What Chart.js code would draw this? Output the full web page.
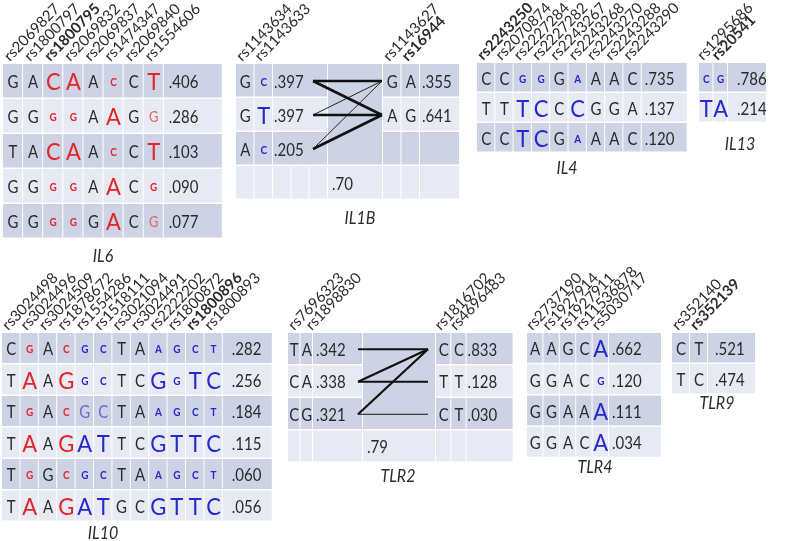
<!DOCTYPE html>
<html><head><meta charset="utf-8">
<script src="https://cdn.jsdelivr.net/npm/chart.js@4/dist/chart.umd.min.js"></script>
<style>html,body{margin:0;padding:0;background:#fff}#wrap{width:787px;height:541px}</style>
</head><body><div id="wrap"><canvas id="c" width="787" height="541"></canvas></div>
<script>
// ---------------- DATA ----------------
// mark codes: '.' plain, 'R' red large, 'r' red small, 'q' red faint, 'B' blue large, 'b' blue small, 'p' blue faint
const il6Snps = ["rs2069827","rs1800797","rs1800795","rs2069832","rs2069837","rs1474347","rs2069840","rs1554606"];
const il6Lead = "rs1800795";
const il6Alleles = ["GACAACCT","GGGGAAGG","TACAACCT","GGGGAACG","GGGGGACG"];
const il6Marks   = ["..RR.r.R","..rr.R.q","..RR.r.R","..rr.R.r","..rr.R.q"];
const il6Freq = [0.406,0.286,0.103,0.090,0.077];

const il1bLeftSnps = ["rs1143634","rs1143633"];
const il1bLeftAlleles = ["GC","GT","AC"];
const il1bLeftMarks = [".b",".B",".b"];
const il1bLeftFreq = [0.397,0.397,0.205];
const il1bRightSnps = ["rs1143627","rs16944"];
const il1bLead = "rs16944";
const il1bRightAlleles = ["GA","AG"];
const il1bRightMarks = ["..",".."];
const il1bRightFreq = [0.355,0.641];
const il1bLinks = [[0,0,"strong"],[0,1,"strong"],[1,0,"weak"],[1,1,"strong"],[2,0,"weak"],[2,1,"strong"]];
const il1bLD = 0.70;

const il4Snps = ["rs2243250","rs2070874","rs2227284","rs2227282","rs2243267","rs2243268","rs2243270","rs2243288","rs2243290"];
const il4Lead = "rs2243250";
const il4Alleles = ["CCGGGAAAC","TTTCCCGGA","CCTCGAAAC"];
const il4Marks   = ["..bb.b...","..BB.B...","..BB.b..."];
const il4Freq = [0.735,0.137,0.120];

const il13Snps = ["rs1295686","rs20541"];
const il13Lead = "rs20541";
const il13Alleles = ["CG","TA"];
const il13Marks = ["bb","BB"];
const il13Freq = [0.786,0.214];

const il10Snps = ["rs3024498","rs3024496","rs3024509","rs1878672","rs1554286","rs1518111","rs3021094","rs3024491","rs2222202","rs1800872","rs1800896","rs1800893"];
const il10Lead = "rs1800896";
const il10Alleles = ["CGACGCTAAGCT","TAAGGCTCGGTC","TGACGCTAAGCT","TAAGATTCGTTC","TGGCGCTAAGCT","TAAGATGCGTTC"];
const il10Marks   = [".r.rbb..bbbb",".R.Rbb..BbBB",".r.rpp..bbbb",".R.RBB..BBBB",".r.rbb..bbbb",".R.RBB..BBBB"];
const il10Freq = [0.282,0.256,0.184,0.115,0.060,0.056];

const tlr2LeftSnps = ["rs7696323","rs1898830"];
const tlr2LeftAlleles = ["TA","CA","CG"];
const tlr2LeftMarks = ["..","..",".."];
const tlr2LeftFreq = [0.342,0.338,0.321];
const tlr2RightSnps = ["rs1816702","rs4696483"];
const tlr2RightAlleles = ["CC","TT","CT"];
const tlr2RightMarks = ["..","..",".."];
const tlr2RightFreq = [0.833,0.128,0.030];
const tlr2Links = [[0,0,"strong"],[1,0,"strong"],[1,1,"strong"],[2,0,"strong"],[2,2,"weak"]];
const tlr2LD = 0.79;

const tlr4Snps = ["rs2737190","rs1927914","rs1927911","rs11536878","rs5030717"];
const tlr4Alleles = ["AAGCA","GGACG","GGAAA","GGACA"];
const tlr4Marks   = ["....B","....b","....B","....B"];
const tlr4Freq = [0.662,0.120,0.111,0.034];

const tlr9Snps = ["rs352140","rs352139"];
const tlr9Lead = "rs352139";
const tlr9Alleles = ["CT","TC"];
const tlr9Marks = ["..",".."];
const tlr9Freq = [0.521,0.474];

// ---------------- LAYOUT / STYLE ----------------
const FONT = 'Lato, "Open Sans", "Liberation Sans", sans-serif';
const COL = {dark:'#cdd3e4', light:'#e7eaf2', ink:'#2a2a2a', red:'#e3252b', redFaint:'#e06464',
             blue:'#2727d0', blueFaint:'#6a6ad4', line:'#111'};
const LABEL_ANGLE = -46 * Math.PI / 180;
const LABEL_FONT = 15;
const STRETCH = 1.18;   // vertical stretch of the source lettering

const simplePanels = [
  {title:'IL6',  snps:il6Snps,  lead:il6Lead,  alleles:il6Alleles,  marks:il6Marks,  freq:il6Freq,
   box:{x:3,   y:64,  colW:20.1, rowH:35,   freqW:59, fs:15, fPad:5}, t:{x:103, y:256}},
  {title:'IL4',  snps:il4Snps,  lead:il4Lead,  alleles:il4Alleles,  marks:il4Marks,  freq:il4Freq,
   box:{x:477, y:63,  colW:18.3, rowH:30,   freqW:46, fs:15, fPad:3}, t:{x:567, y:168}},
  {title:'IL13', snps:il13Snps, lead:il13Lead, alleles:il13Alleles, marks:il13Marks, freq:il13Freq,
   box:{x:699, y:63,  colW:14.5, rowH:30,   freqW:39, fs:15, fPad:9}, t:{x:740, y:144}},
  {title:'IL10', snps:il10Snps, lead:il10Lead, alleles:il10Alleles, marks:il10Marks, freq:il10Freq,
   box:{x:2,   y:333, colW:18.4, rowH:31.5, freqW:50, fs:15, fPad:9}, t:{x:103, y:533}},
  {title:'TLR4', snps:tlr4Snps, lead:null,     alleles:tlr4Alleles, marks:tlr4Marks, freq:tlr4Freq,
   box:{x:527, y:333, colW:16.4, rowH:31.3, freqW:53, fs:15, fPad:3}, t:{x:595, y:467}},
  {title:'TLR9', snps:tlr9Snps, lead:tlr9Lead, alleles:tlr9Alleles, marks:tlr9Marks, freq:tlr9Freq,
   box:{x:672, y:333, colW:18,   rowH:31,   freqW:48, fs:15, fPad:7}, t:{x:717, y:403}}
];

const linkedPanels = [
  {title:'IL1B',
   left:{snps:il1bLeftSnps, alleles:il1bLeftAlleles, marks:il1bLeftMarks, freq:il1bLeftFreq},
   right:{snps:il1bRightSnps, alleles:il1bRightAlleles, marks:il1bRightMarks, freq:il1bRightFreq},
   lead:il1bLead, links:il1bLinks, ld:il1bLD,
   box:{x:236, y:64, colW:18.5, rowH:34, lfW:55, midW:55, rColW:18.5, rfW:40, fs:15, lfPad:1, rfPad:2, lfSplit:3,
        leftLabelDx:[0,0], lineX:[313,382], weights:{strong:2.6, weak:0.9}},
   t:{x:360, y:218}},
  {title:'TLR2',
   left:{snps:tlr2LeftSnps, alleles:tlr2LeftAlleles, marks:tlr2LeftMarks, freq:tlr2LeftFreq},
   right:{snps:tlr2RightSnps, alleles:tlr2RightAlleles, marks:tlr2RightMarks, freq:tlr2RightFreq},
   lead:null, links:tlr2Links, ld:tlr2LD,
   box:{x:288, y:333, colW:12.5, rowH:32.5, lfW:50, midW:73, rColW:15.3, rfW:47, fs:15, lfPad:3, rfPad:1, lfSplit:1,
        leftLabelDx:[3,8], lineX:[358,428], weights:{strong:2.2, weak:1.2}},
   t:{x:398, y:476}}
];

function fmt(v, d){ return v.toFixed(d).replace(/^0/, ''); }

// connector datasets built from link data through the layout
const linkDatasets = [];
linkedPanels.forEach(p => {
  const b = p.box;
  p.links.forEach(([li, ri, w]) => {
    linkDatasets.push({
      type:'line',
      data:[{x:b.lineX[0], y:b.y + (li + 0.5) * b.rowH}, {x:b.lineX[1], y:b.y + (ri + 0.5) * b.rowH}],
      borderColor:COL.line, borderWidth:b.weights[w], pointRadius:0, fill:false, tension:0,
      borderCapStyle:'butt'
    });
  });
});

// ---------------- DRAWING PLUGIN ----------------
function letterStyle(code, fs){
  switch(code){
    case 'R': return {color:COL.red,  font:`${Math.round(fs*1.45)}px ${FONT}`, sy:1.06};
    case 'r': return {color:COL.red,  font:`bold ${Math.round(fs*0.68)}px ${FONT}`, sy:1.12};
    case 'q': return {color:COL.redFaint, font:`${Math.round(fs*0.85)}px ${FONT}`, sy:1.12};
    case 'B': return {color:COL.blue, font:`${Math.round(fs*1.45)}px ${FONT}`, sy:1.06};
    case 'b': return {color:COL.blue, font:`bold ${Math.round(fs*0.68)}px ${FONT}`, sy:1.12};
    case 'p': return {color:COL.blueFaint, font:`${Math.round(fs*1.0)}px ${FONT}`, sy:STRETCH};
    default:  return {color:COL.ink,  font:`${fs}px ${FONT}`, sy:STRETCH};
  }
}

const tablePlugin = {
  id:'haploTables',
  beforeDatasetsDraw(chart){
    const ctx = chart.ctx, sx = chart.scales.x, sy = chart.scales.y;
    const X = v => sx.getPixelForValue(v), Y = v => sy.getPixelForValue(v);
    const cell = (x0, y0, w, h, color) => {
      ctx.fillStyle = color;
      const a = X(x0), b = Y(y0), c = X(x0 + w), d = Y(y0 + h);
      ctx.fillRect(a, b, c - a - 1, d - b - 1.5);
    };
    ctx.save();
    simplePanels.forEach(p => {
      const b = p.box, n = p.snps.length;
      p.alleles.forEach((_, r) => {
        const col = r % 2 ? COL.light : COL.dark;
        for (let c = 0; c < n; c++) cell(b.x + c*b.colW, b.y + r*b.rowH, b.colW, b.rowH, col);
        cell(b.x + n*b.colW, b.y + r*b.rowH, b.freqW, b.rowH, col);
      });
    });
    linkedPanels.forEach(p => {
      const b = p.box;
      const nRows = Math.max(p.left.alleles.length, p.right.alleles.length);
      const lf = b.x + 2*b.colW, mid = lf + b.lfW, rc = mid + b.midW, rf = rc + 2*b.rColW;
      for (let r = 0; r < nRows; r++){
        const col = r % 2 ? COL.light : COL.dark, y = b.y + r*b.rowH;
        cell(b.x, y, b.colW, b.rowH, col); cell(b.x + b.colW, y, b.colW, b.rowH, col);
        cell(lf, y, b.lfW, b.rowH, col);
        cell(rc, y, b.rColW, b.rowH, col); cell(rc + b.rColW, y, b.rColW, b.rowH, col);
        cell(rf, y, b.rfW, b.rowH, col);
      }
      ctx.fillStyle = COL.dark;
      ctx.fillRect(X(mid), Y(b.y), X(rc) - X(mid) - 1, Y(b.y + nRows*b.rowH) - Y(b.y) - 1.5);
      const y = b.y + nRows*b.rowH, col = COL.light;
      cell(b.x, y, b.colW, b.rowH, col); cell(b.x + b.colW, y, b.colW, b.rowH, col);
      const sw = b.lfW / b.lfSplit;
      for (let i = 0; i < b.lfSplit; i++) cell(lf + i*sw, y, sw, b.rowH, col);
      cell(mid, y, b.midW, b.rowH, col);
      cell(rc, y, b.rColW, b.rowH, col); cell(rc + b.rColW, y, b.rColW, b.rowH, col);
      cell(rf, y, b.rfW, b.rowH, col);
    });
    ctx.restore();
  },
  afterDatasetsDraw(chart){
    const ctx = chart.ctx, sx = chart.scales.x, sy = chart.scales.y;
    const X = v => sx.getPixelForValue(v), Y = v => sy.getPixelForValue(v);
    ctx.save();
    const stretched = (text, px, py, k) => {
      ctx.save(); ctx.translate(px, py); ctx.scale(1, k); ctx.fillText(text, 0, 0); ctx.restore();
    };
    const header = (name, lead, cx, top) => {
      ctx.save();
      ctx.translate(X(cx) - 3, Y(top) - 2);
      ctx.rotate(LABEL_ANGLE);
      ctx.font = (name === lead ? 'bold ' : '') + `${LABEL_FONT}px ${FONT}`;
      ctx.fillStyle = COL.ink; ctx.textAlign = 'left'; ctx.textBaseline = 'alphabetic';
      ctx.fillText(name, 0, 0);
      ctx.restore();
    };
    const letters = (alleles, marks, x0, colW, y0, rowH, fs) => {
      alleles.forEach((s, r) => {
        [...s].forEach((ch, c) => {
          const st = letterStyle(marks[r][c], fs);
          ctx.font = st.font; ctx.fillStyle = st.color;
          ctx.textAlign = 'center'; ctx.textBaseline = 'middle';
          stretched(ch, X(x0 + (c + 0.5)*colW), Y(y0 + (r + 0.5)*rowH) + 1, st.sy);
        });
      });
    };
    const freqs = (vals, x, y0, rowH, fs, d) => {
      ctx.font = `${fs}px ${FONT}`; ctx.fillStyle = COL.ink;
      ctx.textAlign = 'left'; ctx.textBaseline = 'middle';
      vals.forEach((v, r) => stretched(fmt(v, d), X(x), Y(y0 + (r + 0.5)*rowH) + 1, STRETCH));
    };
    const title = (t, pos) => {
      ctx.font = `italic 16px ${FONT}`; ctx.fillStyle = COL.ink;
      ctx.textAlign = 'center'; ctx.textBaseline = 'middle';
      stretched(t, X(pos.x), Y(pos.y), 1.1);
    };
    simplePanels.forEach(p => {
      const b = p.box, n = p.snps.length;
      p.snps.forEach((s, c) => header(s, p.lead, b.x + (c + 0.5)*b.colW, b.y));
      letters(p.alleles, p.marks, b.x, b.colW, b.y, b.rowH, b.fs);
      freqs(p.freq, b.x + n*b.colW + b.fPad, b.y, b.rowH, b.fs, 3);
      title(p.title, p.t);
    });
    linkedPanels.forEach(p => {
      const b = p.box;
      const nRows = Math.max(p.left.alleles.length, p.right.alleles.length);
      const lf = b.x + 2*b.colW, mid = lf + b.lfW, rc = mid + b.midW, rf = rc + 2*b.rColW;
      p.left.snps.forEach((s, c) => header(s, p.lead, b.x + (c + 0.5)*b.colW + b.leftLabelDx[c], b.y));
      p.right.snps.forEach((s, c) => header(s, p.lead, rc + (c + 0.5)*b.rColW, b.y));
      letters(p.left.alleles, p.left.marks, b.x, b.colW, b.y, b.rowH, b.fs);
      letters(p.right.alleles, p.right.marks, rc, b.rColW, b.y, b.rowH, b.fs);
      freqs(p.left.freq, lf + b.lfPad, b.y, b.rowH, b.fs, 3);
      freqs(p.right.freq, rf + b.rfPad, b.y, b.rowH, b.fs, 3);
      freqs([p.ld], mid + 4, b.y + nRows*b.rowH, b.rowH, b.fs, 2);
      title(p.title, p.t);
    });
    ctx.restore();
  }
};

new Chart(document.getElementById('c'), {
  type:'scatter',
  data:{datasets:linkDatasets},
  options:{
    responsive:false, animation:false, events:[],
    layout:{padding:0},
    plugins:{legend:{display:false}, tooltip:{enabled:false}},
    scales:{
      x:{type:'linear', min:0, max:787, display:false},
      y:{type:'linear', min:0, max:541, reverse:true, display:false}
    }
  },
  plugins:[tablePlugin]
});
</script></body></html>
